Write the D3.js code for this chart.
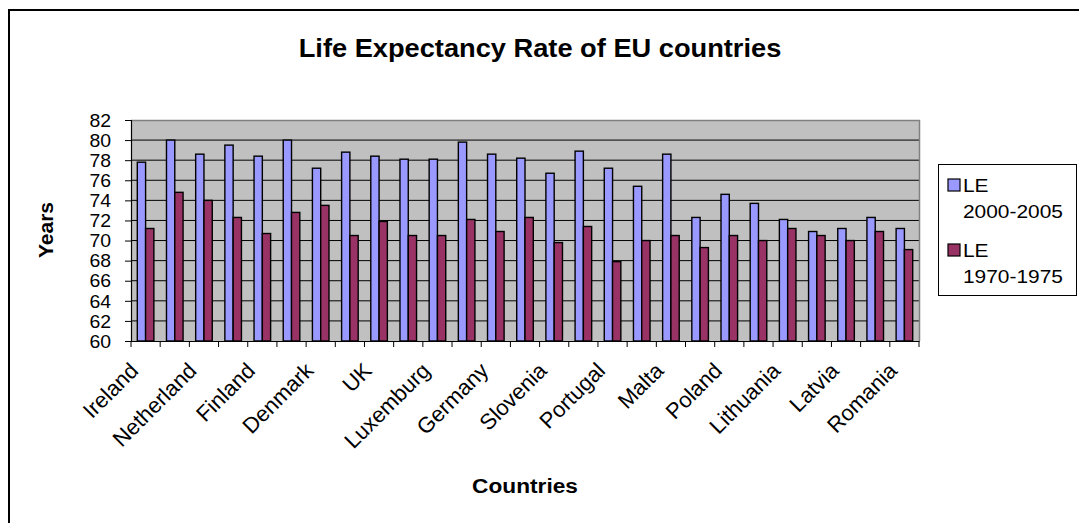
<!DOCTYPE html>
<html><head><meta charset="utf-8">
<script src="https://cdn.jsdelivr.net/npm/d3@7"></script>
<style>html,body{margin:0;padding:0;background:#fff;overflow:hidden}text{font-family:"Liberation Sans",Arial,sans-serif;fill:#000}</style>
</head><body><svg id="c" width="1079" height="523"></svg>
<script>
const categories = ["Ireland","Sweden","Netherland","Italy","Finland","Spain","Denmark","Austria","UK","Belgium","Luxemburg","France","Germany","Greece","Slovenia","Cyprus","Portugal","Czech Republic","Malta","Hungary","Poland","Slovakia","Lithuania","Estonia","Latvia","Bulgaria","Romania"];
const le2000 = [77.8,80.0,78.6,79.5,78.4,80.0,77.2,78.8,78.4,78.1,78.1,79.8,78.6,78.2,76.7,78.9,77.2,75.4,78.6,72.3,74.6,73.7,72.1,70.9,71.2,72.3,71.2];
const le1970 = [71.2,74.8,74.0,72.3,70.7,72.8,73.5,70.5,71.9,70.5,70.5,72.1,70.9,72.3,69.8,71.4,67.9,70.0,70.5,69.3,70.5,70.0,71.2,70.5,70.0,70.9,69.1];
const seriesNames = ["LE 2000-2005","LE 1970-1975"];
const legendLines = [["LE","2000-2005"],["LE","1970-1975"]];
const yTicks = [60,62,64,66,68,70,72,74,76,78,80,82];
const colors = ["#9999FF","#993366"];
const title = "Life Expectancy Rate of EU countries";

const svg = d3.select("#c");
const L=131, R=919, T=120, B=341;
const SX = 1.08;

svg.append("rect").attr("x",9).attr("y",10).attr("width",1100).attr("height",600)
  .attr("fill","none").attr("stroke","#000").attr("stroke-width",2);

const x = d3.scaleBand().domain(categories).range([L,R]).paddingInner(0).paddingOuter(0);
const x1 = d3.scaleBand().domain(seriesNames).range([0,x.bandwidth()]).paddingInner(0).paddingOuter(0.76);
const y = d3.scaleLinear().domain([60,82]).range([B,T]);

// plot area
svg.append("rect").attr("x",L).attr("y",T).attr("width",R-L).attr("height",B-T).attr("fill","#C0C0C0");
svg.append("g").selectAll("line").data(yTicks.filter(v=>v>60 && v<82)).join("line")
  .attr("x1",L).attr("x2",R).attr("y1",d=>y(d)).attr("y2",d=>y(d)).attr("stroke","#000").attr("stroke-width",1);
svg.append("path").attr("d",`M${L},${T+0.5}H${R+0.5}V${B}`).attr("fill","none").attr("stroke","#808080").attr("stroke-width",1.5);

// bars
const data = categories.map((c,i)=>({c, vals:[le2000[i],le1970[i]]}));
const g = svg.append("g").selectAll("g").data(data).join("g").attr("transform",d=>`translate(${x(d.c)},0)`);
g.selectAll("rect").data(d=>d.vals.map((v,k)=>({v,k}))).join("rect")
  .attr("x",d=>x1(seriesNames[d.k])).attr("width",x1.bandwidth())
  .attr("y",d=>y(d.v)).attr("height",d=>y(60)-y(d.v))
  .attr("fill",d=>colors[d.k]).attr("stroke","#000").attr("stroke-width",1.4);

// y axis
const ya = svg.append("g").attr("transform",`translate(${L},0)`)
  .call(d3.axisLeft(y).tickValues(yTicks).tickSize(6).tickPadding(0).tickFormat(d3.format("d")));
ya.select(".domain").attr("stroke","#000").attr("stroke-width",1.2);
ya.selectAll(".tick line").attr("stroke","#000");
ya.selectAll(".tick text").attr("font-size",18).attr("x",0).attr("dy",null).attr("y",0)
  .attr("dominant-baseline","central")
  .attr("transform",`translate(-20,0) scale(${SX},1)`);

// x axis
const xa = svg.append("g").attr("transform",`translate(0,${B})`)
  .call(d3.axisBottom(x).tickSize(0).tickFormat((d,i)=> i%2===0 ? d : ""));
xa.select(".domain").attr("stroke","#000").attr("stroke-width",1.2);
svg.append("g").selectAll("line").data(d3.range(categories.length+1)).join("line")
  .attr("x1",i=>L+i*x.step()).attr("x2",i=>L+i*x.step()).attr("y1",B).attr("y2",B+6).attr("stroke","#000");
xa.selectAll(".tick text").attr("font-size",22).attr("text-anchor","end")
  .attr("y",0).attr("dy",null)
  .attr("transform","translate(-6,31) rotate(-45)");

// titles
svg.append("text").attr("transform",`translate(540,57) scale(1.09,1)`).attr("text-anchor","middle")
  .attr("font-size",25).attr("font-weight","bold").text(title);
svg.append("text").attr("transform",`translate(45,230) rotate(-90)`).attr("text-anchor","middle")
  .attr("dominant-baseline","central").attr("font-size",21).attr("font-weight","bold").text("Years");
svg.append("text").attr("transform",`translate(525,493) scale(1.08,1)`).attr("text-anchor","middle")
  .attr("font-size",21).attr("font-weight","bold").text("Countries");

// legend
const lg = svg.append("g");
lg.append("rect").attr("x",938.5).attr("y",164.5).attr("width",138).attr("height",131).attr("fill","#fff").attr("stroke","#000").attr("stroke-width",1);
legendLines.forEach((ln,k)=>{
  const y0 = 179 + k*65;
  lg.append("rect").attr("x",948).attr("y",y0).attr("width",12).attr("height",12).attr("fill",colors[k]).attr("stroke","#000").attr("stroke-width",1.2);
  lg.append("text").attr("transform",`translate(963,${y0+13}) scale(1.1,1)`).attr("font-size",19).text(ln[0]);
  lg.append("text").attr("transform",`translate(963,${y0+39}) scale(1.1,1)`).attr("font-size",19).text(ln[1]);
});
</script></body></html>
